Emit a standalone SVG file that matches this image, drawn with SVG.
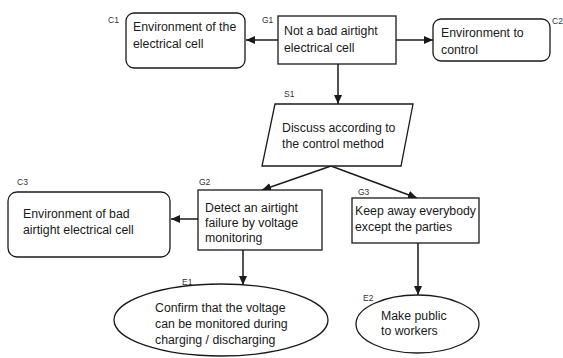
<svg xmlns="http://www.w3.org/2000/svg" width="563" height="358" viewBox="0 0 563 358">
  <style>
    .box { fill: #fff; stroke: #1a1a1a; stroke-width: 1.3; }
    .txt { font-family: "Liberation Sans", Arial, sans-serif; font-size: 12.3px; fill: #1a1a1a; }
    .tag { font-family: "Liberation Sans", Arial, sans-serif; font-size: 8.5px; fill: #333; }
    .edge { fill: none; stroke: #1a1a1a; stroke-width: 1.5; marker-end: url(#arrow); }
  </style>
  <defs>
    <marker id="arrow" markerUnits="userSpaceOnUse" markerWidth="10" markerHeight="9" refX="9" refY="4" orient="auto">
      <path d="M0,0 L9,4 L0,8 Z" fill="#1a1a1a"/>
    </marker>
  </defs>
  <rect width="563" height="358" fill="#fff"/>

  <!-- connectors -->
  <g id="connectors">
    <line class="edge" x1="278" y1="40" x2="246" y2="40"/>
    <line class="edge" x1="396" y1="40" x2="433" y2="40"/>
    <line class="edge" x1="338" y1="64" x2="338" y2="104"/>
    <line class="edge" x1="331" y1="166" x2="262" y2="190"/>
    <line class="edge" x1="331" y1="166" x2="417" y2="198"/>
    <line class="edge" x1="198" y1="219" x2="171" y2="219"/>
    <line class="edge" x1="243" y1="250" x2="243" y2="285"/>
    <line class="edge" x1="418" y1="243" x2="418" y2="295"/>
  </g>

  <!-- G1 -->
  <g id="G1">
    <rect class="box" x="278" y="16" width="118" height="48"/>
    <text class="tag" x="262" y="23">G1</text>
    <text class="txt" x="284" y="35">Not a bad airtight</text>
    <text class="txt" x="284" y="52">electrical cell</text>
  </g>

  <!-- C1 -->
  <g id="C1">
    <rect class="box" x="126" y="13" width="119" height="55" rx="8"/>
    <text class="tag" x="108" y="23">C1</text>
    <text class="txt" x="133" y="31">Environment of the</text>
    <text class="txt" x="133" y="48">electrical cell</text>
  </g>

  <!-- C2 -->
  <g id="C2">
    <rect class="box" x="433" y="19" width="117" height="42" rx="8"/>
    <text class="tag" x="552" y="24">C2</text>
    <text class="txt" x="441" y="37">Environment to</text>
    <text class="txt" x="441" y="54">control</text>
  </g>

  <!-- S1 -->
  <g id="S1">
    <polygon class="box" points="275,104 413,104 401,166 262,166"/>
    <text class="tag" x="284" y="97">S1</text>
    <text class="txt" x="282" y="132">Discuss according to</text>
    <text class="txt" x="282" y="148">the control method</text>
  </g>

  <!-- G2 -->
  <g id="G2">
    <rect class="box" x="198" y="190" width="124" height="60"/>
    <text class="tag" x="199" y="185">G2</text>
    <text class="txt" x="205" y="212">Detect an airtight</text>
    <text class="txt" x="205" y="227">failure by voltage</text>
    <text class="txt" x="205" y="242">monitoring</text>
  </g>

  <!-- C3 -->
  <g id="C3">
    <rect class="box" x="8" y="192" width="162" height="65" rx="9"/>
    <text class="tag" x="17" y="185">C3</text>
    <text class="txt" x="23" y="218">Environment of bad</text>
    <text class="txt" x="23" y="234">airtight electrical cell</text>
  </g>

  <!-- G3 -->
  <g id="G3">
    <rect class="box" x="352" y="198" width="127" height="45"/>
    <text class="tag" x="358" y="195">G3</text>
    <text class="txt" x="355" y="215">Keep away everybody</text>
    <text class="txt" x="355" y="231">except the parties</text>
  </g>

  <!-- E1 -->
  <g id="E1">
    <ellipse class="box" cx="221" cy="320" rx="107" ry="36"/>
    <text class="tag" x="182" y="285">E1</text>
    <text class="txt" x="155" y="312">Confirm that the voltage</text>
    <text class="txt" x="155" y="328">can be monitored during</text>
    <text class="txt" x="155" y="344">charging / discharging</text>
  </g>

  <!-- E2 -->
  <g id="E2">
    <ellipse class="box" cx="417.5" cy="324" rx="61.5" ry="29"/>
    <text class="tag" x="363" y="301">E2</text>
    <text class="txt" x="381" y="320">Make public</text>
    <text class="txt" x="381" y="335">to workers</text>
  </g>
</svg>
